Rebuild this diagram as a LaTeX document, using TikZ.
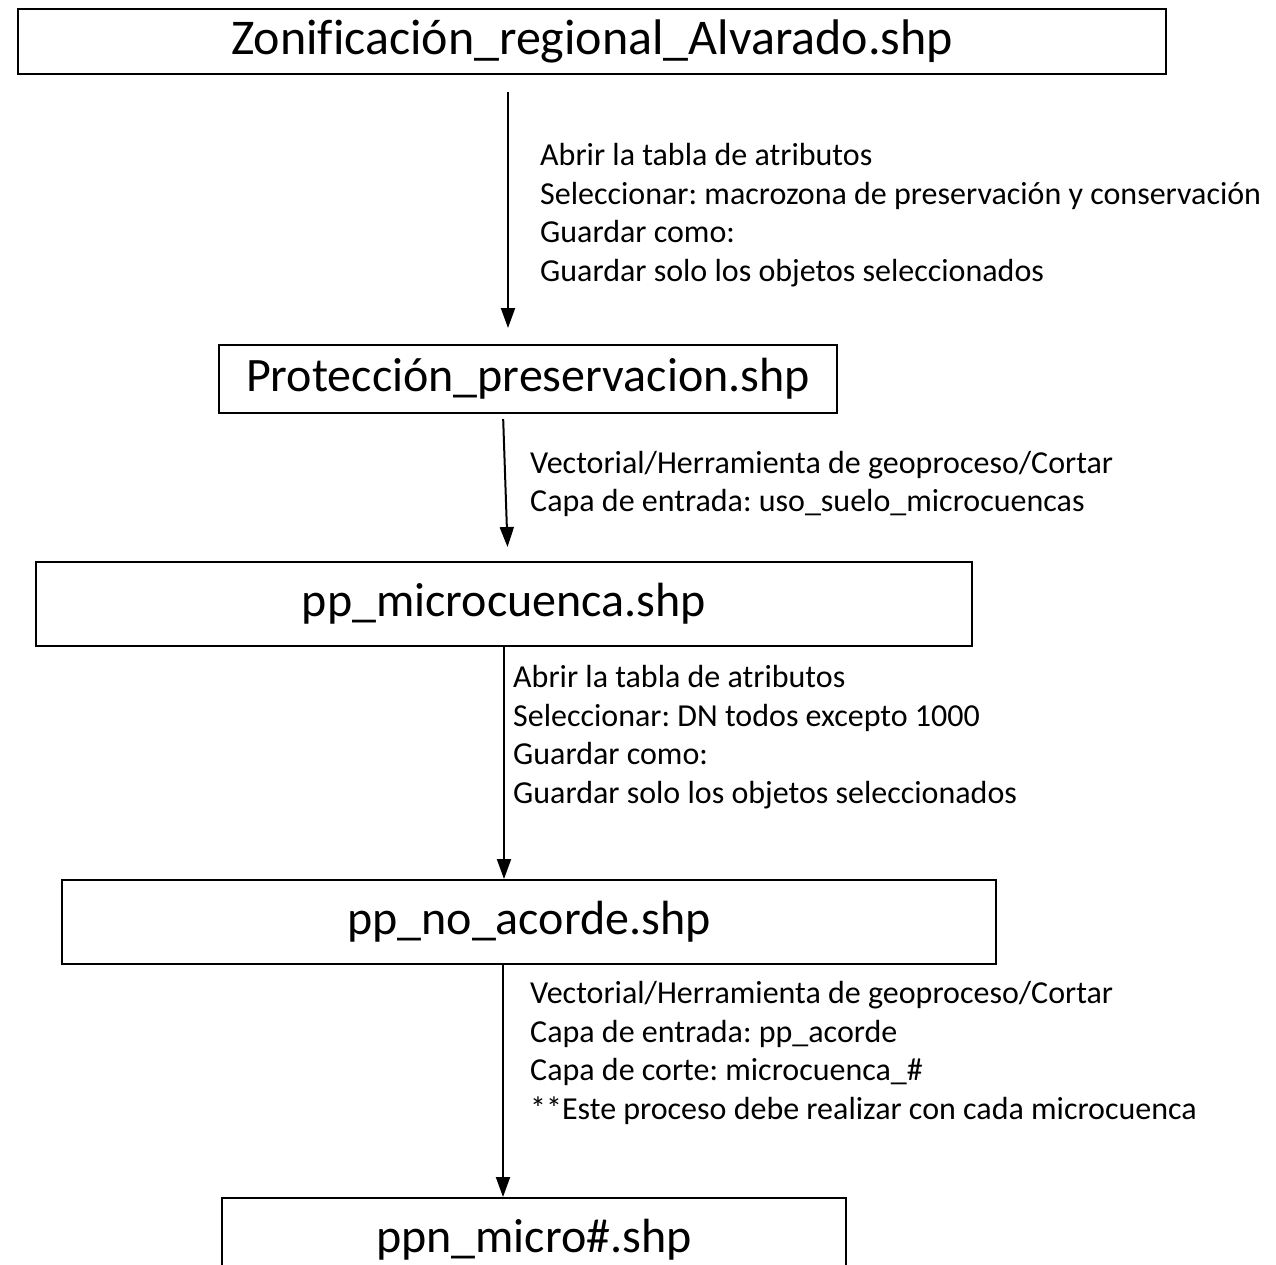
\documentclass[tikz,border=0pt]{standalone}
\usepackage{fontspec}
\setmainfont{Carlito}[Ligatures=NoCommon]
\usetikzlibrary{arrows.meta}
\frenchspacing
\begin{document}
\begin{tikzpicture}[x=1pt,y=-1pt,
 box/.style={draw,line width=2pt,inner sep=0pt,font=\fontsize{48}{50}\selectfont},
 lbl/.style={anchor=west,align=left,inner sep=0pt,font=\fontsize{32}{38.6}\selectfont},
 arr/.style={line width=2pt,-{Triangle[length=20pt,width=14pt]}}]
\useasboundingbox (0,0) rectangle (1276,1264);
\clip (0,0) rectangle (1276,1264);
\fill[white] (0,0) rectangle (1276,1264);
\node[box,minimum width=1148pt,minimum height=65pt,font=\fontsize{50}{52}\selectfont] (b1) at (592,41.5) {Zonificación\_regional\_Alvarado.shp};
\node[box,minimum width=618pt,minimum height=68pt] (b2) at (528,379) {Protección\_preservacion.shp};
\node[box,minimum width=936pt,minimum height=84pt] (b3) at (504,604) {pp\_microcuenca.shp};
\node[box,minimum width=934pt,minimum height=84pt] (b4) at (529,922) {pp\_no\_acorde.shp};
\node[box,minimum width=624pt,minimum height=84pt] (b5) at (534,1240) {ppn\_micro\#.shp};
\coordinate (x1) at (508,0);
\coordinate (x2a) at (503,0);
\coordinate (x2b) at (508,0);
\coordinate (x3) at (504,0);
\coordinate (x4) at (503,0);
\draw[arr,shorten <=17pt,shorten >=16pt] (b1.south -| x1) -- (b2.north -| x1);
\draw[arr,shorten <=5pt,shorten >=14pt] (b2.south -| x2a) -- (b3.north -| x2b);
\draw[arr] (b3.south -| x3) -- (b4.north -| x3);
\draw[arr] (b4.south -| x4) -- (b5.north -| x4);
\node[lbl] (l1) at (540,215) {Abrir la tabla de atributos\\Seleccionar: macrozona de preservación y conservación\\Guardar como:\\Guardar solo los objetos seleccionados};
\node[lbl] (l2) at (530,484) {Vectorial/Herramienta de geoproceso/Cortar\\Capa de entrada: uso\_suelo\_microcuencas};
\node[lbl] (l3) at (513,737) {Abrir la tabla de atributos\\Seleccionar: DN todos excepto 1000\\Guardar como:\\Guardar solo los objetos seleccionados};
\node[lbl] (l4) at (530,1053) {Vectorial/Herramienta de geoproceso/Cortar\\Capa de entrada: pp\_acorde\\Capa de corte: microcuenca\_\#\\**Este proceso debe realizar con cada microcuenca};
\end{tikzpicture}
\end{document}
